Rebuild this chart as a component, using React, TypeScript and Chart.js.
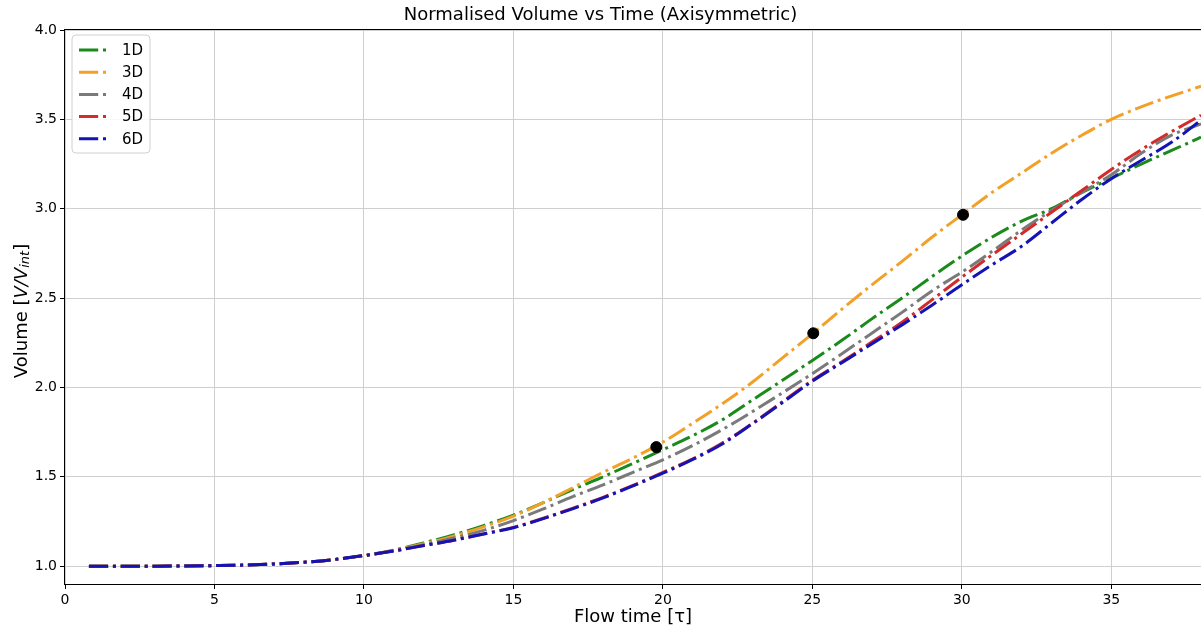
import React, { useEffect, useRef } from "react";
import { Chart, registerables } from "chart.js";

Chart.register(...registerables);

// ---- Data ----
const flowTime = [0.8, 2, 3, 4, 5, 6, 7, 8, 9, 10, 11, 12, 13, 14, 15, 16, 17, 18, 19, 20, 21, 22, 23, 24, 25, 26, 27, 28, 29, 30, 31, 32, 33, 34, 35, 36, 37, 38];

const volume1D = [1.0, 1.0, 1.0, 1.001, 1.003, 1.006, 1.012, 1.022, 1.037, 1.059, 1.09, 1.13, 1.175, 1.227, 1.285, 1.355, 1.43, 1.5, 1.575, 1.652, 1.73, 1.82, 1.93, 2.04, 2.151, 2.265, 2.385, 2.5, 2.62, 2.735, 2.84, 2.93, 3.0, 3.09, 3.17, 3.25, 3.325, 3.4];
const volume3D = [1.0, 1.0, 1.0, 1.001, 1.003, 1.006, 1.012, 1.022, 1.037, 1.059, 1.088, 1.125, 1.168, 1.22, 1.28, 1.355, 1.44, 1.525, 1.605, 1.694, 1.8, 1.91, 2.03, 2.165, 2.3, 2.44, 2.575, 2.705, 2.84, 2.966, 3.09, 3.2, 3.31, 3.41, 3.5, 3.57, 3.63, 3.685];
const volume4D = [1.0, 1.0, 1.0, 1.001, 1.003, 1.006, 1.012, 1.022, 1.037, 1.059, 1.086, 1.12, 1.157, 1.2, 1.255, 1.32, 1.39, 1.455, 1.525, 1.595, 1.675, 1.765, 1.865, 1.97, 2.077, 2.19, 2.305, 2.42, 2.54, 2.645, 2.76, 2.88, 2.99, 3.09, 3.19, 3.31, 3.41, 3.475];
const volume5D = [1.0, 1.0, 1.0, 1.001, 1.003, 1.006, 1.012, 1.022, 1.037, 1.059, 1.085, 1.115, 1.145, 1.18, 1.217, 1.268, 1.325, 1.385, 1.452, 1.525, 1.6, 1.69, 1.8, 1.92, 2.04, 2.145, 2.255, 2.365, 2.49, 2.617, 2.74, 2.86, 2.98, 3.1, 3.22, 3.33, 3.43, 3.523];
const volume6D = [1.0, 1.0, 1.0, 1.001, 1.003, 1.006, 1.012, 1.022, 1.037, 1.059, 1.085, 1.115, 1.145, 1.18, 1.215, 1.266, 1.322, 1.382, 1.449, 1.52, 1.597, 1.685, 1.797, 1.915, 2.035, 2.14, 2.245, 2.35, 2.46, 2.575, 2.685, 2.79, 2.92, 3.05, 3.168, 3.27, 3.37, 3.495];

const seriesLabels = ["1D", "3D", "4D", "5D", "6D"];
const seriesValues = [volume1D, volume3D, volume4D, volume5D, volume6D];
const seriesColors = ["#1a8a1a", "#f2a128", "#7a7a7a", "#d42a2a", "#1414b4"];

const markerTime = [19.78, 25.03, 30.04];
const markerVolume = [1.666, 2.303, 2.966];

const xTickStep = 5;
const yTickStep = 0.5;

const FONT = "'DejaVu Sans', 'Liberation Sans', sans-serif";
const DASH = [19.2, 4.8, 3, 4.8];

export default function App() {
  const canvasRef = useRef<HTMLCanvasElement | null>(null);

  useEffect(() => {
    document.body.style.margin = "0";
    const canvas = canvasRef.current;
    if (!canvas) return;

    const lineDatasets = seriesLabels.map((label, i) => ({
      type: "line" as const,
      label,
      data: flowTime.map((t, k) => ({ x: t, y: seriesValues[i][k] })),
      borderColor: seriesColors[i],
      backgroundColor: seriesColors[i],
      borderWidth: 3,
      borderDash: DASH,
      borderCapStyle: "butt" as const,
      pointRadius: 0,
      cubicInterpolationMode: "monotone" as const,
      fill: false,
      order: 5 - i,
    }));

    const markerDataset = {
      type: "scatter" as const,
      label: "markers",
      data: markerTime.map((t, k) => ({ x: t, y: markerVolume[k] })),
      backgroundColor: "#000",
      borderColor: "#000",
      pointRadius: 5.5,
      showLine: false,
      order: 0,
    };

    const decorPlugin = {
      id: "decor",
      afterDraw(chart: any) {
        const ctx = chart.ctx as CanvasRenderingContext2D;
        const a = chart.chartArea;
        ctx.save();
        // axes box (spines)
        ctx.strokeStyle = "#000";
        ctx.lineWidth = 1;
        ctx.strokeRect(a.left - 0.5, a.top - 0.5, a.right - a.left + 1, a.bottom - a.top + 1);

        // y axis label with italic subscript
        ctx.save();
        const cx = 22;
        const cy = (a.top + a.bottom) / 2 + 4;
        ctx.translate(cx, cy);
        ctx.rotate(-Math.PI / 2);
        ctx.fillStyle = "#000";
        ctx.textBaseline = "middle";
        ctx.textAlign = "left";
        const fNorm = `18px ${FONT}`;
        const fItal = `italic 18px ${FONT}`;
        const fSub = `italic 13px ${FONT}`;
        const parts: [string, string, number][] = [
          ["Volume [", fNorm, 0],
          ["V/V", fItal, 0],
          ["int", fSub, 4],
          ["]", fNorm, 0],
        ];
        let total = 0;
        for (const [t, f] of parts) {
          ctx.font = f;
          total += ctx.measureText(t).width;
        }
        let x = -total / 2;
        for (const [t, f, dy] of parts) {
          ctx.font = f;
          ctx.fillText(t, x, dy);
          x += ctx.measureText(t).width;
        }
        ctx.restore();

        // legend
        const lx = 72, ly = 35, lw = 78, lh = 118, r = 4;
        ctx.beginPath();
        ctx.moveTo(lx + r, ly);
        ctx.lineTo(lx + lw - r, ly);
        ctx.quadraticCurveTo(lx + lw, ly, lx + lw, ly + r);
        ctx.lineTo(lx + lw, ly + lh - r);
        ctx.quadraticCurveTo(lx + lw, ly + lh, lx + lw - r, ly + lh);
        ctx.lineTo(lx + r, ly + lh);
        ctx.quadraticCurveTo(lx, ly + lh, lx, ly + lh - r);
        ctx.lineTo(lx, ly + r);
        ctx.quadraticCurveTo(lx, ly, lx + r, ly);
        ctx.closePath();
        ctx.fillStyle = "rgba(255,255,255,0.85)";
        ctx.fill();
        ctx.strokeStyle = "#d0d0d0";
        ctx.lineWidth = 1;
        ctx.stroke();

        seriesLabels.forEach((label, i) => {
          const y = 50 + i * 22.2;
          ctx.beginPath();
          ctx.setLineDash(DASH);
          ctx.lineCap = "butt";
          ctx.strokeStyle = seriesColors[i];
          ctx.lineWidth = 3;
          ctx.moveTo(79, y);
          ctx.lineTo(107, y);
          ctx.stroke();
          ctx.setLineDash([]);
          ctx.fillStyle = "#000";
          ctx.font = `15px ${FONT}`;
          ctx.textBaseline = "middle";
          ctx.textAlign = "left";
          ctx.fillText(label, 122, y + 1);
        });
        ctx.restore();
      },
    };

    const chart = new Chart(canvas, {
      type: "line",
      data: { datasets: [markerDataset as any, ...lineDatasets] },
      options: {
        responsive: false,
        devicePixelRatio: 1,
        animation: false,
        layout: { padding: 0, autoPadding: false },
        plugins: {
          legend: { display: false },
          tooltip: { enabled: false },
          title: {
            display: true,
            text: "Normalised Volume vs Time (Axisymmetric)",
            color: "#000",
            font: { family: FONT, size: 18, weight: "normal" },
            padding: { top: 5, bottom: 3.4 },
          },
        },
        scales: {
          x: {
            type: "linear",
            min: 0,
            max: 38,
            border: { display: false },
            grid: { color: "#cfcfcf", lineWidth: 1, tickLength: 5, tickColor: "#000", drawTicks: true },
            ticks: {
              stepSize: xTickStep,
              includeBounds: false,
              color: "#000",
              padding: 3,
              font: { family: FONT, size: 14 },
              maxRotation: 0,
            },
            title: {
              display: true,
              text: "Flow time [τ]",
              color: "#000",
              font: { family: FONT, size: 18 },
              padding: { top: 0, bottom: 0 },
            },
            afterFit(scale: any) {
              scale.height = 44;
            },
          },
          y: {
            type: "linear",
            min: 0.9,
            max: 4.0,
            border: { display: false },
            grid: { color: "#cfcfcf", lineWidth: 1, tickLength: 5, tickColor: "#000", drawTicks: true },
            ticks: {
              stepSize: yTickStep,
              includeBounds: false,
              color: "#000",
              padding: 3,
              font: { family: FONT, size: 14 },
              callback: (v: any) => Number(v).toFixed(1),
            },
            afterFit(scale: any) {
              scale.width = 65;
            },
          },
        },
      },
      plugins: [decorPlugin],
    });

    return () => chart.destroy();
  }, []);

  return (
    <div style={{ width: 1201, height: 628 }}>
      <canvas ref={canvasRef} width={1201} height={628} style={{ display: "block" }} />
    </div>
  );
}
